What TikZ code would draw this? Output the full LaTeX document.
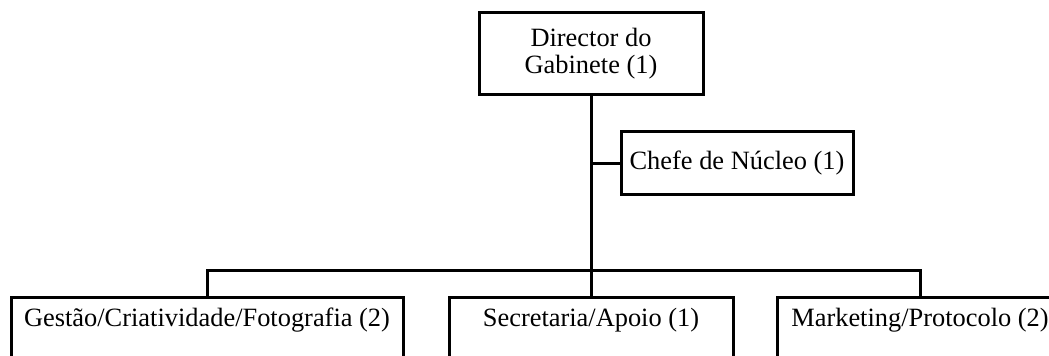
\documentclass[tikz,border=0pt]{standalone}
\usepackage{fontspec}
\setmainfont{Liberation Serif}
\begin{document}
\begin{tikzpicture}[x=0.5pt,y=-0.5pt,line width=1.5pt,
  caixa/.style={draw,inner xsep=0pt,font=\fontsize{13.2}{13.5}\selectfont},
  base/.style={caixa,anchor=north,inner ysep=4.5pt,text height=10pt,text depth=30pt}]
\path [use as bounding box,clip] (0,0) rectangle (1049,356);
\node [caixa,minimum width=112pt,minimum height=41pt,align=center] (dir) at (591,54) {Director do\\Gabinete (1)};
\node [caixa,minimum width=116pt,minimum height=31.5pt] (chefe) at (737,163.5) {Chefe de Núcleo (1)};
\node [base,minimum width=196pt] (ges) at (207,296) {Gestão/Criatividade/Fotografia (2)};
\node [base,minimum width=142pt] (sec) at (591,296) {Secretaria/Apoio (1)};
\node [base,minimum width=143pt] (mkt) at (920,296) {Marketing/Protocolo (2)};
\coordinate (barra) at (591,271);
\draw (dir.south) -- (barra);
\draw (dir.south |- chefe.west) -- (chefe.west);
\draw (ges.north) |- (barra) -| (mkt.north);
\draw (barra) -- (sec.north);
\end{tikzpicture}
\end{document}
